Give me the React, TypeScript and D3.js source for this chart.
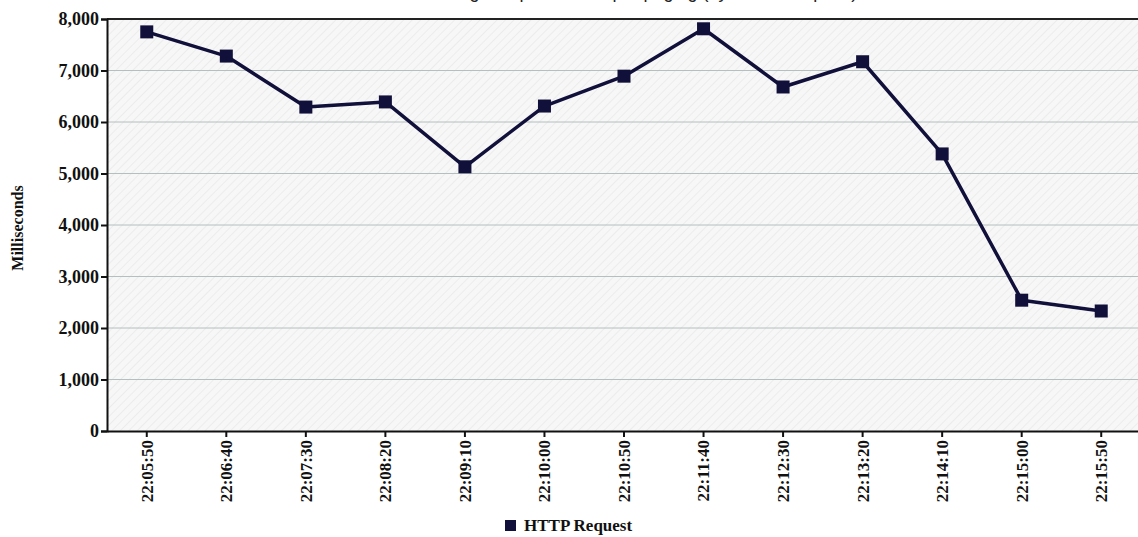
import { useEffect, useRef } from "react";
import * as d3 from "d3";

const times = [
  "22:05:50", "22:06:40", "22:07:30", "22:08:20", "22:09:10", "22:10:00", "22:10:50",
  "22:11:40", "22:12:30", "22:13:20", "22:14:10", "22:15:00", "22:15:50",
];
const responseMs = [7750, 7280, 6290, 6390, 5130, 6310, 6890, 7810, 6680, 7170, 5380, 2540, 2330];
const yTicks = [0, 1000, 2000, 3000, 4000, 5000, 6000, 7000, 8000];
const seriesName = "HTTP Request";
const chartTitle = "Average response time per paging (by HTTP Request)";

export default function App() {
  const svgRef = useRef<SVGSVGElement | null>(null);

  useEffect(() => {
    if (!svgRef.current) return;
    const W = 1138, H = 537;
    const margin = { top: 19, right: -3, bottom: 106, left: 107 };
    const innerW = W - margin.left - margin.right;
    const innerH = H - margin.top - margin.bottom;
    const serif = "'Liberation Serif', 'Times New Roman', serif";
    const navy = "#10103a";

    const svg = d3.select(svgRef.current);
    svg.selectAll("*").remove();

    const defs = svg.append("defs");
    const pat = defs.append("pattern").attr("id", "hatch").attr("patternUnits", "userSpaceOnUse")
      .attr("width", 6).attr("height", 6).attr("patternTransform", "rotate(45)");
    pat.append("rect").attr("width", 6).attr("height", 6).attr("fill", "#f7f7f7");
    pat.append("line").attr("x1", 0).attr("y1", 0).attr("x2", 0).attr("y2", 6)
      .attr("stroke", "#ececec").attr("stroke-width", 2);

    // title, mostly cut off by the top edge in the original too
    svg.append("text").attr("x", 640).attr("y", -2).attr("text-anchor", "middle")
      .attr("font-family", "'Liberation Sans', Arial, sans-serif").attr("font-size", 18)
      .attr("fill", "#222").text(chartTitle);

    const g = svg.append("g").attr("transform", `translate(${margin.left},${margin.top})`);

    const x = d3.scaleBand().domain(times).range([0, innerW]).padding(0);
    const y = d3.scaleLinear().domain([0, 8000]).range([innerH, 0]);

    g.append("rect").attr("width", innerW).attr("height", innerH).attr("fill", "url(#hatch)");

    g.append("g").selectAll("line").data(yTicks.slice(1)).join("line")
      .attr("x1", 0).attr("x2", innerW).attr("y1", (d) => y(d)).attr("y2", (d) => y(d))
      .attr("stroke", "#b4c0c0").attr("stroke-width", 1);

    // top border
    g.append("line").attr("x1", 0).attr("x2", innerW).attr("y1", 0).attr("y2", 0)
      .attr("stroke", "#222").attr("stroke-width", 2);

    const yAxis = g.append("g")
      .call(d3.axisLeft(y).tickValues(yTicks).tickSize(6).tickFormat((d) => d3.format(",")(d as number)));
    yAxis.select(".domain").attr("stroke", "#111").attr("stroke-width", 2);
    yAxis.selectAll(".tick line").attr("stroke", "#111").attr("stroke-width", 2);
    yAxis.selectAll("text").attr("font-family", serif).attr("font-weight", "bold")
      .attr("font-size", 18).attr("fill", "#111").attr("x", -8);

    const xAxis = g.append("g").attr("transform", `translate(0,${innerH})`)
      .call(d3.axisBottom(x).tickSize(6).tickSizeOuter(0));
    xAxis.select(".domain").attr("stroke", "#111").attr("stroke-width", 2);
    xAxis.selectAll(".tick line").attr("stroke", "#111").attr("stroke-width", 2);
    xAxis.selectAll("text").attr("font-family", serif).attr("font-weight", "bold")
      .attr("font-size", 17).attr("fill", "#111")
      .attr("transform", "rotate(-90)").attr("text-anchor", "end")
      .attr("x", -9).attr("y", 0).attr("dy", "0.35em");

    g.append("text").attr("transform", "rotate(-90)")
      .attr("x", -(228 - margin.top)).attr("y", -84).attr("text-anchor", "middle")
      .attr("font-family", serif).attr("font-weight", "bold").attr("font-size", 16)
      .attr("fill", "#111").text("Milliseconds");

    const pts = responseMs.map((v, i) => ({ x: (x(times[i]) ?? 0) + x.bandwidth() / 2, y: y(v) }));
    const line = d3.line<{ x: number; y: number }>().x((d) => d.x).y((d) => d.y);
    g.append("path").datum(pts).attr("d", line).attr("fill", "none")
      .attr("stroke", navy).attr("stroke-width", 3.5).attr("stroke-linejoin", "round");
    g.selectAll("rect.marker").data(pts).join("rect").attr("class", "marker")
      .attr("x", (d) => d.x - 6.5).attr("y", (d) => d.y - 6.5)
      .attr("width", 13).attr("height", 13).attr("fill", navy);

    // legend
    const lg = svg.append("g").attr("transform", "translate(505,520)");
    lg.append("rect").attr("x", 0).attr("y", 0).attr("width", 11).attr("height", 11).attr("fill", navy);
    lg.append("text").attr("x", 19).attr("y", 11).attr("font-family", serif).attr("font-weight", "bold")
      .attr("font-size", 17).attr("fill", "#111").text(seriesName);
  }, []);

  return (
    <svg ref={svgRef} width={1138} height={537}
      style={{ position: "absolute", left: 0, top: 0, display: "block", background: "#fff" }} />
  );
}
